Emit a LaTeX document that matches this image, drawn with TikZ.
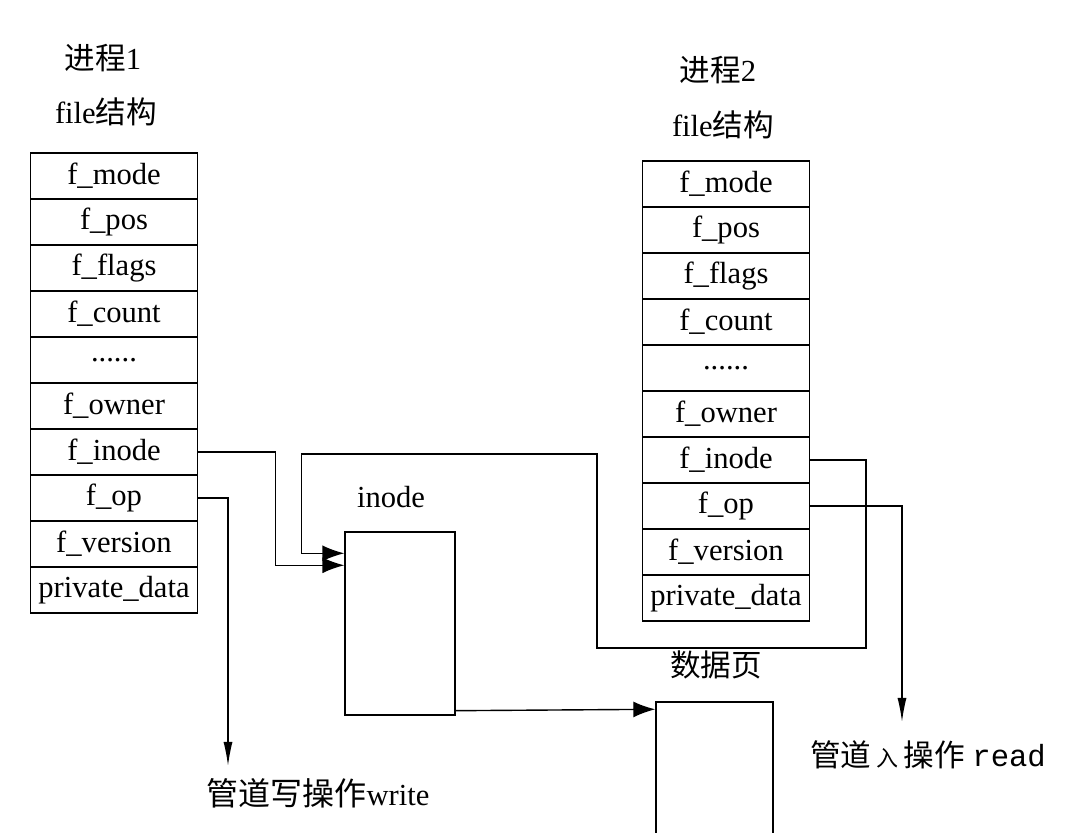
\documentclass[tikz,border=0pt]{standalone}
\usepackage{fontspec}
\setmainfont{Liberation Serif}
\setmonofont{Liberation Mono}
\newfontfamily\cjk{Noto Sans CJK SC}
\usetikzlibrary{arrows.meta,positioning}
\tikzset{>={Latex[length=11pt,width=8pt]}}
\tikzset{every picture/.style={line width=0.7pt}}
\tikzset{field/.style={draw, minimum width=83.5pt, minimum height=23pt,
    inner sep=0pt, font=\fontsize{15.3}{18}\selectfont}}
\tikzset{lbl/.style={inner sep=0pt, font=\fontsize{15.3}{18}\selectfont}}
\tikzset{blockbox/.style={draw, inner sep=0pt}}
\tikzset{oparrow/.style={-{Latex[length=12pt,width=4.5pt]}}}
\newcommand\sixdots{......}

\begin{document}
\begin{tikzpicture}[x=0.5pt,y=-0.5pt]
  \useasboundingbox (0,0) rectangle (1073,833);
  % file structures of process 1 and 2
  \foreach \f [count=\i] in {f\_mode,f\_pos,f\_flags,f\_count,\sixdots,f\_owner,f\_inode,f\_op,f\_version,private\_data}{
    \node[field] (pa\i) at (114,130+46*\i) {\f};
    \node[field] (pb\i) at (726,138+46*\i) {\f};
  }
  \node[lbl] (proca) at (103,58) {{\cjk 进程}1};
  \node[lbl] (filea) at (106,112) {file{\cjk 结构}};
  \node[lbl] (procb) at (718,70) {{\cjk 进程}2};
  \node[lbl] (fileb) at (723,125) {file{\cjk 结构}};

  % inode and data page
  \node[blockbox, minimum width=55pt, minimum height=91.5pt] (inode) at (400,623.5) {};
  \node[lbl] (inodelbl) at (391,497) {inode};
  \node[blockbox, minimum width=58.5pt, minimum height=74pt] (data) at (714.5,776) {};
  \node[lbl] (datalbl) at (716,665) {\cjk 数据页};

  \coordinate (in1) at ([yshift=-17pt]inode.north west);
  \coordinate (in2) at ([yshift=-11pt]inode.north west);
  \coordinate (wtip) at (228,766);
  \coordinate (rtip) at (902,722);

  \draw[->] (pa7.east) -| ([xshift=-34.5pt]in1) -- (in1);
  \draw[->] (pb7.east) -| (866,648) -| (597,454) -| ([xshift=-21.5pt]in2) -- (in2);
  \draw[->] ([yshift=2.5pt]inode.south east) -- ([yshift=-4pt]data.north west);
  \draw[oparrow] (pa8.east) -| (wtip);
  \draw[oparrow] (pb8.east) -| (rtip);

  \node[lbl] (writelbl) at (318,793) {{\cjk\fontsize{16}{18}\selectfont 管道写操作}write};
  \node[lbl] (readlbl) at (928,755) {{\cjk 管道\,{\fontsize{11}{12}\selectfont 入}\,操作}~\texttt{read}};
\end{tikzpicture}
\end{document}
